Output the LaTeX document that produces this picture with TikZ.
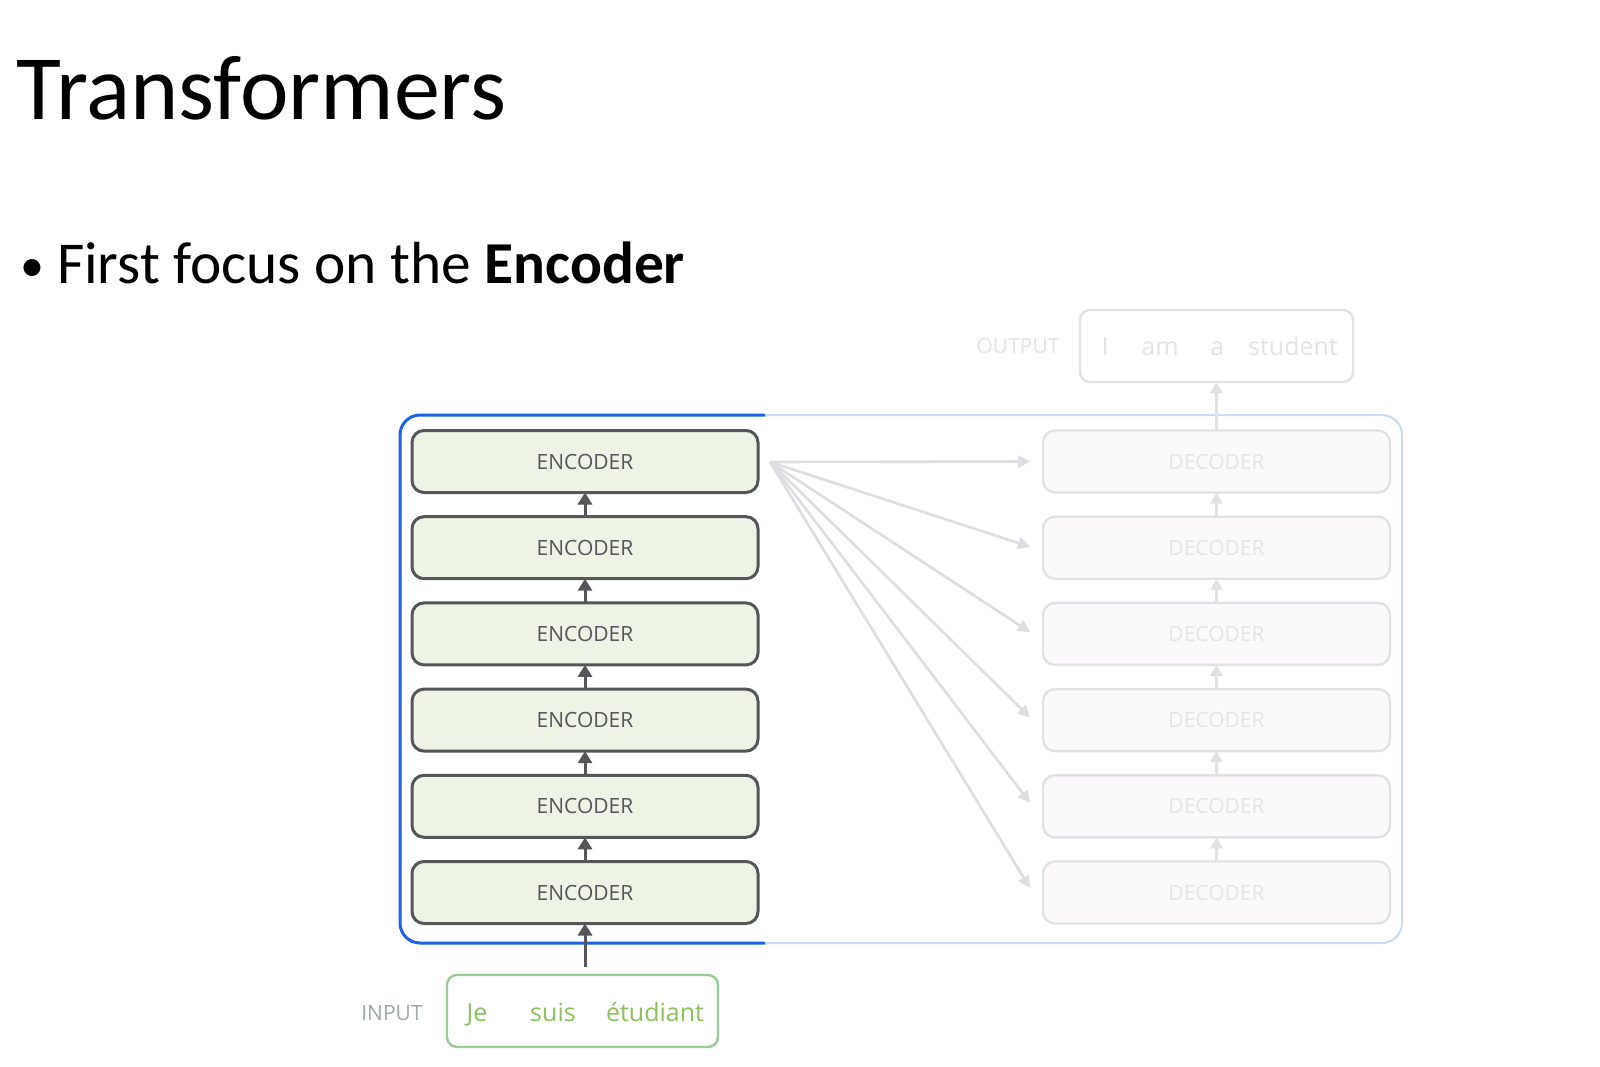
\documentclass[tikz,border=0pt]{standalone}
\usepackage{fontspec}
\setmainfont{Carlito}
\newfontfamily\diagfont{Open Sans}
\usetikzlibrary{positioning,arrows.meta}

\definecolor{encblue}{RGB}{28,100,228}
\definecolor{paleblue}{RGB}{204,218,246}
\definecolor{encfill}{RGB}{238,244,229}
\definecolor{encgray}{RGB}{84,86,90}
\definecolor{decfill}{RGB}{252,249,252}
\definecolor{decgray}{RGB}{226,226,228}
\definecolor{dectext}{RGB}{228,228,230}
\definecolor{fangray}{RGB}{222,222,226}
\definecolor{ingreen}{RGB}{152,204,150}
\definecolor{wordgreen}{RGB}{140,194,92}
\definecolor{labelgray}{RGB}{160,168,170}

\begin{document}
\begin{tikzpicture}[
    x=0.5pt, y=-0.5pt,
    every node/.style={
        inner sep=0pt,
        outer sep=0pt,
    },
    encoder/.style={
        draw=encgray, fill=encfill,
        line width=1.5pt,
        rounded corners=6pt,
        minimum width=173pt,
        minimum height=31pt,
        text=encgray,
        font=\diagfont\fontsize{10.5}{12}\selectfont,
    },
    decoder/.style={
        draw=decgray, fill=decfill,
        line width=1.2pt,
        rounded corners=6pt,
        minimum width=173.5pt,
        minimum height=31pt,
        text=dectext,
        font=\diagfont\fontsize{10.5}{12}\selectfont,
    },
    wordbox/.style={
        draw=#1,
        line width=1.2pt,
        rounded corners=5pt,
        minimum height=36pt,
    },
    word/.style={
        text=#1,
        anchor=base,
        font=\diagfont\fontsize{12.5}{14}\selectfont,
    },
    sidelabel/.style={
        text=#1,
        anchor=base,
        font=\diagfont\fontsize{10.5}{12}\selectfont,
    },
    encarrow/.style={
        draw=encgray, line width=1.5pt,
        -{Triangle[length=6pt,width=7pt]},
    },
    decarrow/.style={
        draw=decgray, line width=1.2pt,
        -{Triangle[length=5.5pt,width=6pt]},
    },
    fanarrow/.style={
        draw=fangray, line width=1.3pt,
        -{Triangle[length=6pt,width=6pt]},
    },
]
    \useasboundingbox[fill=white] (0,0) rectangle (1600,1066);

    \node[anchor=base west, font=\fontsize{46}{54}\selectfont] (title) at (17,119) {Transformers};
    \node[anchor=base west, font=\fontsize{24}{30}\selectfont] (dot) at (20,281) {\textbullet};
    \node[anchor=base west, font=\fontsize{29.7}{35}\selectfont] (point) at (57,283) {First focus on the \textbf{Encoder}};

    % outer frame, pale right part and strong left part
    \draw[paleblue, line width=1pt, rounded corners=10pt] (400,415) rectangle (1402,943);
    \draw[encblue, line width=1.5pt, rounded corners=10pt] (765,415) -| (400,943) -- (765,943);

    \foreach \i in {1,...,6}{
        \node[encoder] (enc\i) at (585,{461.5+86.2*(\i-1)}) {ENCODER};
        \node[decoder] (dec\i) at (1216.5,{461.5+86.2*(\i-1)}) {DECODER};
    }
    \foreach \i [evaluate=\i as \j using int(\i+1)] in {1,...,5}{
        \draw[encarrow] (enc\j.north) -- (enc\i.south);
        \draw[decarrow] (dec\j.north) -- (dec\i.south);
    }

    % input
    \node[wordbox=ingreen, minimum width=135.5pt] (inbox) at (582.5,1011) {};
    \node[word=wordgreen] (je) at (477,1021) {Je};
    \node[word=wordgreen] (suis) at (553,1021) {suis};
    \node[word=wordgreen] (etudiant) at (655,1021) {étudiant};
    \node[sidelabel=labelgray] (inlabel) at (392,1020) {INPUT};
    \draw[encarrow, shorten <=4pt] (inbox.north -| enc6.south) -- (enc6.south);

    % output
    \node[wordbox=decgray, minimum width=136.5pt] (outbox) at (1216.5,346) {};
    \node[word=dectext] (wi) at (1105,355) {I};
    \node[word=dectext] (wam) at (1160,355) {am};
    \node[word=dectext] (wa) at (1217,355) {a};
    \node[word=dectext] (wstudent) at (1293,355) {student};
    \node[sidelabel=dectext] (outlabel) at (1018,353) {OUTPUT};
    \draw[decarrow] (dec1.north) -- (outbox.south);

    % encoder output to every decoder
    \coordinate (fan) at (770,462);
    \foreach \i in {1,...,6}{
        \draw[fanarrow] (fan) -- ([xshift=-6.5pt,yshift={(\i-1)*0.45pt}]dec\i.west);
    }
\end{tikzpicture}
\end{document}
